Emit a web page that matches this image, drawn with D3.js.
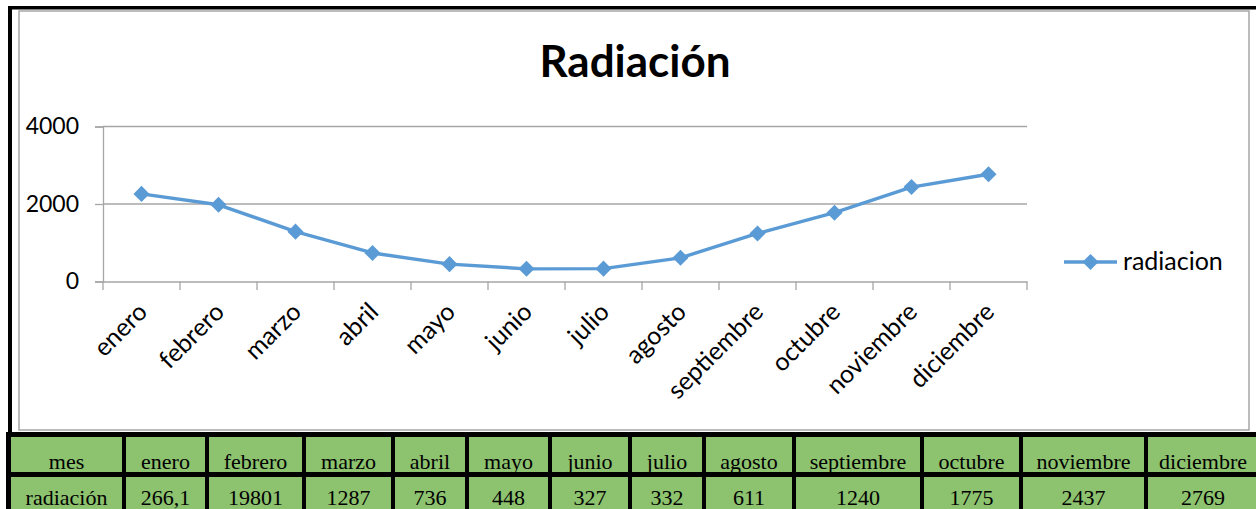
<!DOCTYPE html>
<html>
<head>
<meta charset="utf-8">
<script src="https://cdn.jsdelivr.net/npm/d3@7"></script>
<style>
  html, body { margin: 0; padding: 0; background: #fff; }
  svg { display: block; }
</style>
</head>
<body>
<svg id="chart" width="1256" height="509"></svg>
<script>
// chart data
const months = ['enero', 'febrero', 'marzo', 'abril', 'mayo', 'junio', 'julio',
                'agosto', 'septiembre', 'octubre', 'noviembre', 'diciembre']
const radiacion = [2261, 1980, 1287, 736, 448, 327, 332, 611, 1240, 1775, 2437, 2769]
const yTicks = [0, 2000, 4000]

// table under the chart (text as written in the sheet)
const tableHead = ['mes', ...months]
const tableRow = ['radiación', '266,1', '19801', '1287', '736', '448', '327', '332',
                  '611', '1240', '1775', '2437', '2769']
const colEdges = [9, 124, 207, 304, 393, 467, 550, 630, 704, 794, 922, 1021, 1146, 1260]

const svg = d3.select('#chart')
const sans = 'Lato, Carlito, Calibri, sans-serif'
const serif = '"Liberation Serif", "Times New Roman", serif'
const blue = '#5B9BD5'

// outer frame
svg.append('rect').attr('x', 19).attr('y', 11).attr('width', 1230).attr('height', 419)
    .attr('fill', 'none').attr('stroke', '#a6a6a6').attr('stroke-width', 1.5)
svg.append('rect').attr('x', 8).attr('y', 6).attr('width', 1250).attr('height', 3.5).attr('fill', '#000')
svg.append('rect').attr('x', 8).attr('y', 6).attr('width', 4).attr('height', 430).attr('fill', '#000')

// title
svg.append('text')
    .attr('x', 635).attr('y', 77)
    .attr('text-anchor', 'middle')
    .attr('font-family', sans).attr('font-weight', 'bold').attr('font-size', '44px')
    .attr('fill', '#000')
    .text('Radiación')

const x = d3.scaleBand().domain(months).range([103, 1027])
const y = d3.scaleLinear().domain([0, 4000]).range([281.5, 126.5])

// gridlines
svg.append('g').selectAll('line')
    .data(yTicks.filter(d => d > 0))
    .enter().append('line')
    .attr('x1', 103).attr('x2', 1027)
    .attr('y1', d => y(d)).attr('y2', d => y(d))
    .attr('stroke', '#a6a6a6').attr('stroke-width', 1.3)

// y axis
const yAxis = svg.append('g')
    .attr('transform', 'translate(103,0)')
    .call(d3.axisLeft(y).tickValues(yTicks).tickSize(8).tickPadding(16).tickFormat(d3.format('d')))
yAxis.select('.domain').attr('stroke', '#a6a6a6').attr('stroke-width', 1.3)
yAxis.selectAll('.tick line').attr('stroke', '#a6a6a6').attr('stroke-width', 1.3)
yAxis.selectAll('.tick text')
    .attr('font-family', sans).attr('font-size', '23px').attr('fill', '#000')

// x axis
const xAxis = svg.append('g')
    .attr('transform', 'translate(0,281.5)')
    .call(d3.axisBottom(x).tickSize(0).tickFormat(''))
xAxis.select('.domain').attr('stroke', '#a6a6a6').attr('stroke-width', 1.3)

svg.append('g').selectAll('line')
    .data(d3.range(months.length + 1))
    .enter().append('line')
    .attr('x1', i => 103 + i * x.step()).attr('x2', i => 103 + i * x.step())
    .attr('y1', 281.5).attr('y2', 290)
    .attr('stroke', '#a6a6a6').attr('stroke-width', 1.3)

svg.append('g').selectAll('text')
    .data(months)
    .enter().append('text')
    .attr('transform', d => `translate(${x(d) + x.bandwidth() / 2 - 5},${301}) rotate(-45)`)
    .attr('text-anchor', 'end')
    .attr('dy', '0.7em')
    .attr('font-family', sans).attr('font-size', '25px').attr('fill', '#000')
    .text(d => d)

// series
const line = d3.line()
    .x((d, i) => x(months[i]) + x.bandwidth() / 2)
    .y(d => y(d))

svg.append('path')
    .datum(radiacion)
    .attr('d', line)
    .attr('fill', 'none')
    .attr('stroke', blue).attr('stroke-width', 3.4)
    .attr('stroke-linejoin', 'round')

const diamond = d3.symbol().type(d3.symbolDiamond2).size(165)

svg.append('g').selectAll('path')
    .data(radiacion)
    .enter().append('path')
    .attr('d', diamond)
    .attr('transform', (d, i) => `translate(${x(months[i]) + x.bandwidth() / 2},${y(d)})`)
    .attr('fill', blue)

// legend
svg.append('line').attr('x1', 1064).attr('x2', 1117).attr('y1', 262).attr('y2', 262)
    .attr('stroke', blue).attr('stroke-width', 3.4)
svg.append('path').attr('d', diamond).attr('transform', 'translate(1090.5,262)').attr('fill', blue)
svg.append('text').attr('x', 1123).attr('y', 270)
    .attr('font-family', sans).attr('font-size', '25px').attr('fill', '#000')
    .text('radiacion')

// table
const table = svg.append('g')
table.append('rect').attr('x', 6).attr('y', 432).attr('width', 1252).attr('height', 80).attr('fill', '#000')

const rows = [tableHead, tableRow]
const rowTop = [437, 477]
const rowBottom = [472, 512]

rows.forEach((row, r) => {
    row.forEach((txt, c) => {
        const x0 = colEdges[c] + 2
        const x1 = colEdges[c + 1] - 2
        table.append('rect')
            .attr('x', x0).attr('y', rowTop[r])
            .attr('width', x1 - x0).attr('height', rowBottom[r] - rowTop[r])
            .attr('fill', '#8dc26f')
        table.append('text')
            .attr('x', (x0 + x1) / 2).attr('y', r === 0 ? 469 : 505)
            .attr('text-anchor', 'middle')
            .attr('font-family', serif).attr('font-size', '22px').attr('fill', '#000')
            .text(txt)
    })
})
</script>
</body>
</html>
